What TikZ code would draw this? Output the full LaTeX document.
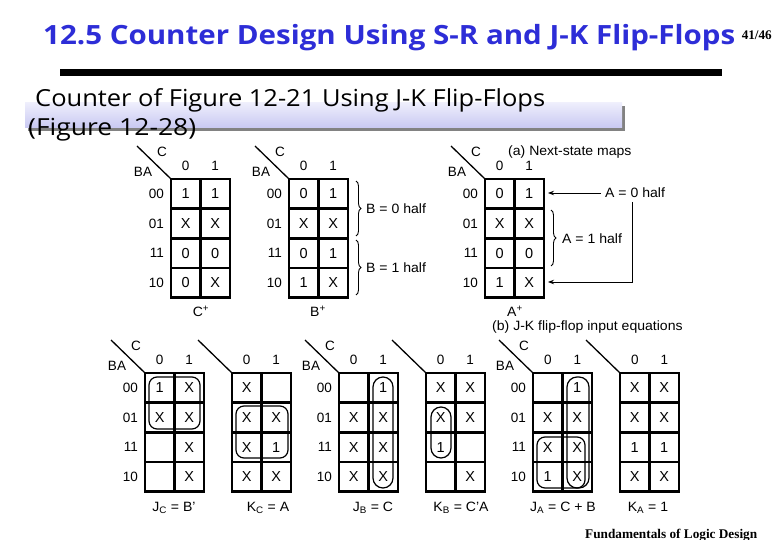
\documentclass[tikz,border=0pt]{standalone}
\usepackage{fontspec}
\setmainfont{Liberation Sans}
\newfontfamily\titlefont{Open Sans}
\newfontfamily\footfont{Liberation Serif}
\usetikzlibrary{decorations.pathreplacing,arrows.meta,calc}
\definecolor{titleblue}{RGB}{45,45,215}
\definecolor{boxtop}{RGB}{238,238,252}
\definecolor{boxbot}{RGB}{200,200,242}
\definecolor{shadowgray}{RGB}{130,130,130}
\tikzset{
  gridline/.style={line width=2.6pt},
  diagline/.style={line width=1.3pt},
  celltxt/.style={font=\fontsize{14.5}{16}\selectfont, inner sep=0pt},
  axtxt/.style={font=\fontsize{13.5}{15}\selectfont, inner sep=0pt},
  lbl/.style={font=\fontsize{13.5}{15}\selectfont, inner sep=0pt, xscale=1.04},
  looppath/.style={line width=1.2pt, rounded corners=8pt},
  bracedec/.style={decorate, decoration={brace, amplitude=5pt}, line width=0.9pt},
  arr/.style={line width=0.9pt, -{Stealth[length=6pt,width=4.5pt]}}
}
% #1 name, #2 left, #3 top, #4 entries (row-major), #5 show BA/C/row labels
\newcommand\kmap[5]{%
  \coordinate (#1-nw) at (#2,#3);
  \draw[diagline] (#2-34,#3-33) -- (#1-nw);
  \draw[gridline] (#1-nw) rectangle ++(59,118.5);
  \draw[gridline] ($(#1-nw)+(29.5,0)$) -- ++(0,118.5);
  \foreach \r in {1,2,3} {\draw[gridline] ($(#1-nw)+(0,\r*29.625)$) -- ++(59,0);}
  \foreach \v [count=\i from 0] in {#4} {%
    \pgfmathtruncatemacro\rr{div(\i,2)}%
    \pgfmathtruncatemacro\cc{mod(\i,2)}%
    \node[celltxt] (#1-\rr\cc) at ($(#1-nw)+(14.75+\cc*29.5,14.8+\rr*29.625)$) {\v};
  }
  \node[axtxt] (#1-c0) at ($(#1-nw)+(14.75,-13)$) {0};
  \node[axtxt] (#1-c1) at ($(#1-nw)+(44.25,-13)$) {1};
  \ifnum#5=1
    \node[axtxt] (#1-C) at ($(#1-nw)+(-9,-27)$) {C};
    \node[axtxt] (#1-BA) at ($(#1-nw)+(-28,-7.5)$) {BA};
    \node[axtxt,anchor=east] (#1-r0) at ($(#1-nw)+(-7,14.8)$) {00};
    \node[axtxt,anchor=east] (#1-r1) at ($(#1-nw)+(-7,44.4)$) {01};
    \node[axtxt,anchor=east] (#1-r2) at ($(#1-nw)+(-7,74)$) {11};
    \node[axtxt,anchor=east] (#1-r3) at ($(#1-nw)+(-7,103.7)$) {10};
  \fi
}
\begin{document}
\begin{tikzpicture}[x=1pt,y=-1pt]
\useasboundingbox (0,0) rectangle (780,540);
\fill[white] (0,0) rectangle (780,540);
% title
\node[anchor=base west, inner sep=0pt, text=titleblue] (title) at (43,44.5)
  {\resizebox{692pt}{\height}{\titlefont\bfseries\fontsize{26.5}{30}\selectfont 12.5 Counter Design Using S-R and J-K Flip-Flops}};
\node[anchor=base east, inner sep=0pt] (pageno) at (772,40)
  {\resizebox{30pt}{!}{\footfont\bfseries 41/46}};
\fill[black] (60,69) rectangle (722,76);
% subtitle box
\fill[shadowgray] (28,106) rectangle (625,131);
\shade[top color=boxtop, bottom color=boxbot] (25,103) rectangle (622,128);
\node[anchor=base west, inner sep=0pt] (sub1) at (35,107)
  {\resizebox{510pt}{\height}{\titlefont\fontsize{23.5}{26}\selectfont Counter of Figure 12-21 Using J-K Flip-Flops}};
\node[anchor=base west, inner sep=0pt] (sub2) at (28,135.5)
  {\resizebox{168pt}{\height}{\titlefont\fontsize{23.5}{26}\selectfont (Figure 12-28)}};
% next-state maps
\kmap{Cp}{171}{179}{1,1,X,X,0,0,0,X}{1}
\kmap{Bp}{289}{179}{0,1,X,X,0,1,1,X}{1}
\kmap{Ap}{485}{179}{0,1,X,X,0,0,1,X}{1}
\node[lbl] (CpL) at (201,311) {C\textsuperscript{+}};
\node[lbl] (BpL) at (318,311) {B\textsuperscript{+}};
\node[lbl] (ApL) at (515,311) {A\textsuperscript{+}};
\node[lbl,anchor=west] (capa) at (508,152) {(a) Next-state maps};
\node[lbl,anchor=west] (capb) at (492,327) {(b) J-K flip-flop input equations};
% braces
\draw[bracedec] (356,181) -- (356,236);
\node[lbl,anchor=west] (b0h) at (366,209) {B = 0 half};
\draw[bracedec] (356,240) -- (356,295);
\node[lbl,anchor=west] (b1h) at (366,268) {B = 1 half};
\draw[bracedec] (551,210) -- (551,266);
\node[lbl,anchor=west] (a1h) at (562,239) {A = 1 half};
% arrows
\node[lbl,anchor=west] (a0h) at (605,193) {A = 0 half};
\coordinate (a0in) at (548,193);
\coordinate (a1in) at (548,282);
\coordinate (a0drop) at (632,202);
\draw[arr,shorten <=4pt] (a0h.west) -- (a0in);
\draw[arr] (a0drop) |- (a1in);
% J-K input maps
\kmap{JC}{145}{373}{1,X,X,X,{},X,{},X}{1}
\kmap{KC}{232}{373}{X,{},X,X,X,1,X,X}{0}
\kmap{JB}{339}{373}{{},1,X,X,X,X,X,X}{1}
\kmap{KB}{426}{373}{X,X,X,X,1,{},{},X}{0}
\kmap{JA}{533}{373}{{},1,X,X,X,X,1,X}{1}
\kmap{KA}{620}{373}{X,X,X,X,1,1,X,X}{0}
% loops
\draw[looppath] (149,377) rectangle (200,429);
\draw[looppath] (236,406) rectangle (288,458);
\draw[looppath,rounded corners=10pt] (373,377) rectangle (393,488);
\draw[looppath,rounded corners=10pt] (431,407) rectangle (451,458);
\draw[looppath,rounded corners=10pt] (567,377) rectangle (589,488);
\draw[looppath] (537,437) rectangle (585,488);
% equations
\node[lbl] (eJC) at (174,508) {J\textsubscript{C} = B'};
\node[lbl] (eKC) at (268,508) {K\textsubscript{C} = A};
\node[lbl] (eJB) at (373,508) {J\textsubscript{B} = C};
\node[lbl] (eKB) at (461,508) {K\textsubscript{B} = C'A};
\node[lbl] (eJA) at (563,508) {J\textsubscript{A} = C + B};
\node[lbl] (eKA) at (648,508) {K\textsubscript{A} = 1};
% footer
\node[anchor=base west, inner sep=0pt] (foot) at (585,538)
  {\resizebox{172pt}{!}{\footfont\bfseries Fundamentals of Logic Design}};
\end{tikzpicture}
\end{document}
